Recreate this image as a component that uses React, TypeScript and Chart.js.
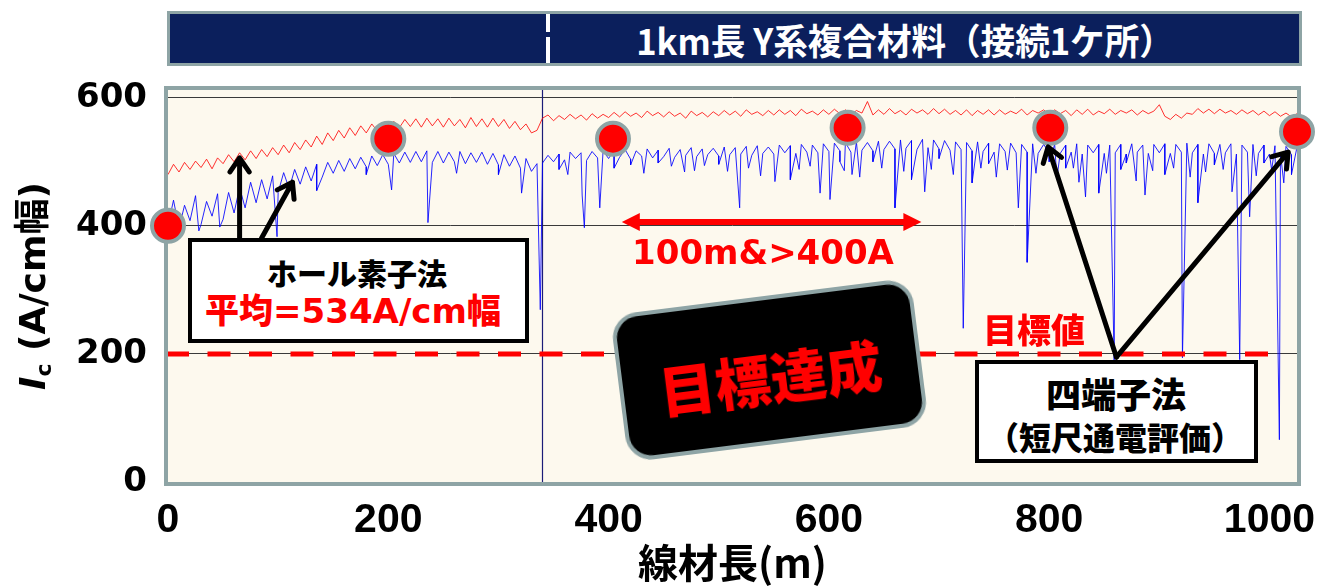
import React, { useEffect, useRef } from 'react';
import { Chart, registerables } from 'chart.js';

Chart.register(...registerables);

// ---- data ----
const distanceStepM = 5; // sampling step of the Hall-probe traces (m)

// Hall probe trace, upper (red), Ic in A/cm-width, every 5 m from 0 m
const hallRed = [
  480, 496, 484, 499, 488, 501, 491, 504, 489, 506,
  497, 511, 500, 514, 503, 517, 505, 519, 508, 522,
  511, 526, 514, 530, 519, 534, 523, 540, 527, 545,
  533, 549, 537, 553, 541, 556, 545, 559, 548, 561,
  551, 563, 553, 566, 555, 567, 554, 568, 556, 567,
  554, 568, 556, 566, 553, 569, 555, 567, 554, 568,
  555, 566, 552, 563, 550, 559, 545, 549, 568, 573,
  564, 572, 566, 574, 567, 573, 565, 575, 568, 574,
  569, 577, 570, 578, 571, 576, 569, 579, 572, 577,
  570, 578, 571, 576, 568, 579, 572, 577, 570, 578,
  572, 580, 573, 579, 571, 581, 574, 578, 572, 580,
  573, 581, 574, 580, 572, 582, 575, 579, 573, 581,
  574, 582, 575, 581, 573, 580, 576, 594, 573, 581,
  574, 583, 575, 580, 573, 582, 576, 581, 574, 583,
  575, 582, 574, 580, 573, 581, 572, 580, 574, 581,
  573, 581, 574, 579, 575, 582, 573, 580, 576, 581,
  574, 581, 575, 580, 572, 581, 574, 582, 573, 579,
  575, 582, 574, 580, 576, 581, 573, 580, 575, 579,
  589, 571, 566, 574, 568, 576, 574, 583, 576, 582,
  575, 582, 576, 580, 574, 581, 575, 580, 573, 579,
  572, 578, 571, 576, 570, 575,
];

// Hall probe trace, lower (blue), every 5 m from 0 m
const hallBlue = [
  400, 440, 396, 432, 408, 447, 402, 438, 415, 450,
  410, 452, 420, 460, 428, 468, 436, 472, 442, 478,
  452, 483, 458, 488, 465, 492, 470, 496, 476, 499,
  482, 502, 485, 505, 489, 507, 492, 509, 494, 511,
  496, 513, 498, 515, 499, 516, 500, 517, 499, 516,
  498, 515, 500, 516, 497, 514, 499, 515, 496, 513,
  495, 511, 493, 509, 490, 505, 485, 497, 498, 510,
  500, 512, 503, 515, 505, 514, 502, 516, 506, 517,
  505, 518, 507, 519, 504, 517, 509, 520, 506, 518,
  508, 521, 507, 519, 510, 522, 508, 520, 511, 521,
  509, 523, 511, 522, 512, 524, 510, 525, 513, 523,
  512, 526, 514, 525, 513, 527, 515, 526, 514, 528,
  516, 529, 517, 530, 515, 531, 518, 530, 517, 532,
  519, 532, 520, 534, 521, 533, 519, 535, 522, 534,
  520, 533, 518, 531, 519, 530, 517, 531, 516, 529,
  515, 528, 516, 529, 514, 527, 515, 528, 513, 527,
  514, 527, 513, 526, 515, 528, 512, 526, 514, 527,
  513, 526, 514, 527, 512, 528, 515, 526, 513, 527,
  514, 528, 513, 527, 515, 529, 514, 527, 512, 528,
  513, 527, 514, 528, 512, 526, 515, 527, 513, 526,
  512, 525, 513, 524, 511, 523,
];

// local Ic drops of the blue trace: position (m) and lowest value
const blueDropAt = [
  28, 47, 99, 135, 180, 203, 236, 262, 300, 321, 338,
  376, 378, 392, 420, 445, 469, 500, 519, 551, 565, 592, 601, 610, 621, 640, 660, 687,
  700, 722, 730, 745, 772, 780, 800, 815, 833, 845, 859, 870, 887, 921, 935, 950,
  966, 973, 982, 995, 1009, 1013,
  355, 363, 405, 432, 457, 478, 487, 508, 527, 538, 573, 583, 614, 628, 648, 668,
  675, 693, 713, 738, 752, 762, 788, 807, 822, 827, 852, 865, 879, 894, 905, 913,
  928, 942, 958, 988, 1002, 1020,
];
const blueDropTo = [
  392, 398, 383, 455, 480, 456, 405, 482, 480, 451, 269,
  448, 397, 428, 495, 498, 484, 496, 428, 469, 472, 451, 441, 500, 480, 500, 428, 453,
  505, 240, 467, 497, 428, 343, 500, 490, 445, 451, 190, 498, 448, 194, 436, 495,
  453, 191, 414, 498, 66, 467,
  488, 480, 490, 482, 493, 486, 494, 485, 490, 478, 488, 493, 486, 476, 490, 485,
  472, 488, 480, 490, 476, 487, 482, 474, 490, 468, 482, 488, 470, 486, 480, 490,
  476, 484, 488, 478, 487, 480,
];

// four-probe (short sample) results
const fourProbeAt = [0, 200, 404, 617, 801, 1025];
const fourProbeIc = [400, 536, 536, 553, 553, 547];

const targetIc = 200;
const targetFromM = 0;
const targetToM = 1000;
const jointAtM = 340;

const xMaxM = 1025;
const yMaxIc = 612;
const xTickValues = [0, 200, 400, 600, 800, 1000];
const yTickValues = [0, 200, 400, 600];

// annotation arrows in data units [m, Ic]
const hallArrows = [
  [[65, 381], [65, 506]],
  [[85, 381], [113, 468]],
];
const fourProbeArrows = [
  [[861, 195], [799, 523]],
  [[861, 195], [1017, 515]],
];
const spanArrow = [[412, 406], [684, 406]];

const FRAME = '#8ea4a5';
const JP = '"Noto Sans CJK JP", sans-serif';
const SANS = '"DejaVu Sans", "Noto Sans CJK JP", sans-serif';

const framePlugin = {
  id: 'plotFrame',
  beforeDraw(chart: any) {
    const { ctx, chartArea: a } = chart;
    ctx.save();
    ctx.fillStyle = '#fdf9ee';
    ctx.fillRect(a.left, a.top, a.right - a.left, a.bottom - a.top);
    ctx.restore();
  },
  beforeDatasetsDraw(chart: any) {
    const { ctx, chartArea: a } = chart;
    ctx.save();
    ctx.strokeStyle = FRAME;
    ctx.lineWidth = 4;
    ctx.strokeRect(a.left - 2, a.top - 2, a.right - a.left + 4, a.bottom - a.top + 4);
    ctx.restore();
  },
};

const arrowPlugin = {
  id: 'callouts',
  afterDatasetsDraw(chart: any) {
    const { ctx } = chart;
    const xs = chart.scales.x;
    const ys = chart.scales.y;
    const px = (p: number[]) => [xs.getPixelForValue(p[0]), ys.getPixelForValue(p[1])];
    ctx.save();
    ctx.strokeStyle = '#000';
    ctx.lineWidth = 5;
    ctx.lineCap = 'round';
    ctx.lineJoin = 'round';
    for (const [from, to] of [...hallArrows, ...fourProbeArrows]) {
      const [x1, y1] = px(from);
      const [x2, y2] = px(to);
      const ang = Math.atan2(y2 - y1, x2 - x1);
      const h = 17;
      const s = 0.6;
      ctx.beginPath();
      ctx.moveTo(x1, y1);
      ctx.lineTo(x2, y2);
      ctx.moveTo(x2 - h * Math.cos(ang - s), y2 - h * Math.sin(ang - s));
      ctx.lineTo(x2, y2);
      ctx.lineTo(x2 - h * Math.cos(ang + s), y2 - h * Math.sin(ang + s));
      ctx.stroke();
    }
    // red double-headed arrow
    const [ax1, ay] = px(spanArrow[0]);
    const [ax2] = px(spanArrow[1]);
    const hl = 18;
    const hw = 9;
    ctx.fillStyle = '#ff0000';
    ctx.strokeStyle = '#ff0000';
    ctx.lineCap = 'butt';
    ctx.lineWidth = 6;
    ctx.beginPath();
    ctx.moveTo(ax1 + hl - 2, ay);
    ctx.lineTo(ax2 - hl + 2, ay);
    ctx.stroke();
    ctx.beginPath();
    ctx.moveTo(ax1, ay);
    ctx.lineTo(ax1 + hl, ay - hw);
    ctx.lineTo(ax1 + hl, ay + hw);
    ctx.closePath();
    ctx.fill();
    ctx.beginPath();
    ctx.moveTo(ax2, ay);
    ctx.lineTo(ax2 - hl, ay - hw);
    ctx.lineTo(ax2 - hl, ay + hw);
    ctx.closePath();
    ctx.fill();
    ctx.restore();
  },
};

function Label(props: {
  cx: number; cy: number; w: number; size: number; color?: string; family?: string;
  weight?: number | string; children: React.ReactNode; style?: React.CSSProperties;
}) {
  const { cx, cy, w, size, color = '#000', family = JP, weight = 900, children, style } = props;
  const lh = size * 1.2;
  return (
    <div
      style={{
        position: 'absolute', left: cx - w / 2, top: cy - lh / 2, width: w, height: lh,
        lineHeight: `${lh}px`, fontSize: size, fontFamily: family, fontWeight: weight as any,
        color, textAlign: 'center', whiteSpace: 'nowrap', ...style,
      }}
    >
      {children}
    </div>
  );
}

export default function App() {
  const canvasRef = useRef<HTMLCanvasElement | null>(null);

  useEffect(() => {
    const canvas = canvasRef.current;
    if (!canvas) return;

    const redPts = hallRed.map((v, i) => ({ x: i * distanceStepM, y: v }));
    const bluePts = hallBlue
      .map((v, i) => ({ x: i * distanceStepM, y: v }))
      .concat(blueDropAt.map((m, i) => ({ x: m, y: blueDropTo[i] })))
      .sort((a, b) => a.x - b.x);
    const dots = fourProbeAt.map((m, i) => ({ x: m, y: fourProbeIc[i] }));

    const chart = new Chart(canvas, {
      type: 'line',
      data: {
        datasets: [
          {
            label: '四端子法',
            data: dots,
            showLine: false,
            pointRadius: 16,
            pointBorderWidth: 4,
            pointBackgroundColor: '#ff0000',
            pointBorderColor: FRAME,
            clip: false as any,
          },
          {
            label: '目標値',
            data: [{ x: targetFromM, y: targetIc }, { x: targetToM, y: targetIc }],
            borderColor: '#ff0000',
            borderWidth: 5,
            borderDash: [23, 18.5],
            borderDashOffset: 2,
            pointRadius: 0,
          },
          {
            label: 'ホール素子法 (上)',
            data: redPts,
            borderColor: 'rgba(255,0,0,0.8)',
            borderWidth: 1,
            pointRadius: 0,
            tension: 0,
          },
          {
            label: 'ホール素子法 (下)',
            data: bluePts,
            borderColor: 'rgba(0,0,255,0.85)',
            borderWidth: 1,
            pointRadius: 0,
            tension: 0,
          },
          {
            label: '接続部',
            data: [{ x: jointAtM, y: 0 }, { x: jointAtM, y: yMaxIc }],
            borderColor: '#1c1c78',
            borderWidth: 1.2,
            pointRadius: 0,
          },
        ],
      },
      options: {
        responsive: false,
        animation: false,
        events: [],
        layout: { padding: { left: 0, top: 90, right: 22, bottom: 0 } },
        plugins: { legend: { display: false }, tooltip: { enabled: false } },
        scales: {
          x: {
            type: 'linear',
            min: 0,
            max: xMaxM,
            afterFit: (s: any) => { s.height = 105; s.paddingLeft = 0; s.paddingRight = 0; },
            afterBuildTicks: (s: any) => { s.ticks = xTickValues.map((v) => ({ value: v })); },
            grid: { display: false, drawTicks: false },
            border: { display: false },
            ticks: {
              autoSkip: false,
              maxRotation: 0,
              padding: 14,
              color: '#000',
              callback: (v: any) => String(v),
              font: { family: '"Liberation Sans Narrow", "Liberation Sans", sans-serif', size: 41, weight: 'bold' },
            },
            title: {
              display: true,
              text: '線材長(m)',
              color: '#000',
              padding: { top: 0, bottom: 0 },
              font: { family: JP, size: 40, weight: 'bold' },
            },
          },
          y: {
            type: 'linear',
            min: 0,
            max: yMaxIc,
            afterFit: (s: any) => { s.width = 168; s.paddingTop = 0; s.paddingBottom = 0; },
            afterBuildTicks: (s: any) => { s.ticks = yTickValues.map((v) => ({ value: v })); },
            grid: { color: '#3a3a3a', lineWidth: 1, drawTicks: false },
            border: { display: false },
            ticks: {
              padding: 21,
              color: '#000',
              callback: (v: any) => String(v),
              font: { family: '"DejaVu Sans", sans-serif', size: 34, weight: 'bold' },
            },
          },
        },
      },
      plugins: [framePlugin, arrowPlugin],
    });
    return () => chart.destroy();
  }, []);

  return (
    <div style={{ position: 'absolute', left: 0, top: 0, width: 1319, height: 587, overflow: 'hidden', background: '#fff' }}>
      <canvas ref={canvasRef} width={1319} height={587} style={{ position: 'absolute', left: 0, top: 0 }} />

      {/* header banner */}
      <div style={{ position: 'absolute', left: 167, top: 11, width: 1135, height: 55, boxSizing: 'border-box', background: '#0b1f5c', border: `3px solid ${FRAME}` }} />
      <div style={{ position: 'absolute', left: 546, top: 14, width: 4, height: 18, background: '#fff' }} />
      <div style={{ position: 'absolute', left: 546, top: 37, width: 4, height: 26, background: '#fff' }} />
      <Label cx={905} cy={40} w={600} size={36} color="#fff" weight={700} style={{ transform: 'scaleX(0.96)' }}>
        1km長 Y系複合材料（接続1ケ所）
      </Label>

      {/* y axis title */}
      <div
        style={{
          position: 'absolute', left: 33 - 120, top: 286 - 24, width: 240, height: 48, lineHeight: '48px',
          transform: 'rotate(-90deg)', textAlign: 'center', whiteSpace: 'nowrap',
          fontFamily: SANS, fontWeight: 700, fontSize: 36, color: '#000',
        }}
      >
        <i>I</i><sub style={{ fontSize: 22, verticalAlign: '-6px' }}>c</sub> (A/cm幅)
      </div>

      {/* Hall probe box */}
      <div style={{ position: 'absolute', left: 188, top: 238, width: 341, height: 105, boxSizing: 'border-box', border: '4px solid #000', background: '#fff' }} />
      <Label cx={357} cy={272} w={320} size={30}>ホール素子法</Label>
      <Label cx={353} cy={311} w={330} size={34} color="#ff0000" family={SANS}>平均=534A/cm幅</Label>

      {/* 100m span label */}
      <Label cx={763} cy={252} w={320} size={34} color="#ff0000" family='"DejaVu Sans", sans-serif' weight={700}>100m&amp;&gt;400A</Label>

      {/* target label */}
      <Label cx={1034} cy={329} w={130} size={34} color="#ff0000">目標値</Label>

      {/* four-probe box */}
      <div style={{ position: 'absolute', left: 975, top: 360, width: 283, height: 103, boxSizing: 'border-box', border: '4px solid #000', background: '#fff' }} />
      <Label cx={1116} cy={393} w={260} size={35}>四端子法</Label>
      <Label cx={1115} cy={436} w={270} size={32}>（短尺通電評価）</Label>

      {/* achievement badge */}
      <div
        style={{
          position: 'absolute', left: 769 - 151, top: 370 - 74, width: 303, height: 148, boxSizing: 'border-box',
          border: `4px solid ${FRAME}`, borderRadius: 26, background: '#000', transform: 'rotate(-7.2deg)',
          display: 'flex', alignItems: 'center', justifyContent: 'center',
        }}
      >
        <div style={{ fontFamily: JP, fontWeight: 900, fontSize: 56, color: '#ff0000', lineHeight: '70px', marginTop: 12, whiteSpace: 'nowrap' }}>
          目標達成
        </div>
      </div>
    </div>
  );
}
